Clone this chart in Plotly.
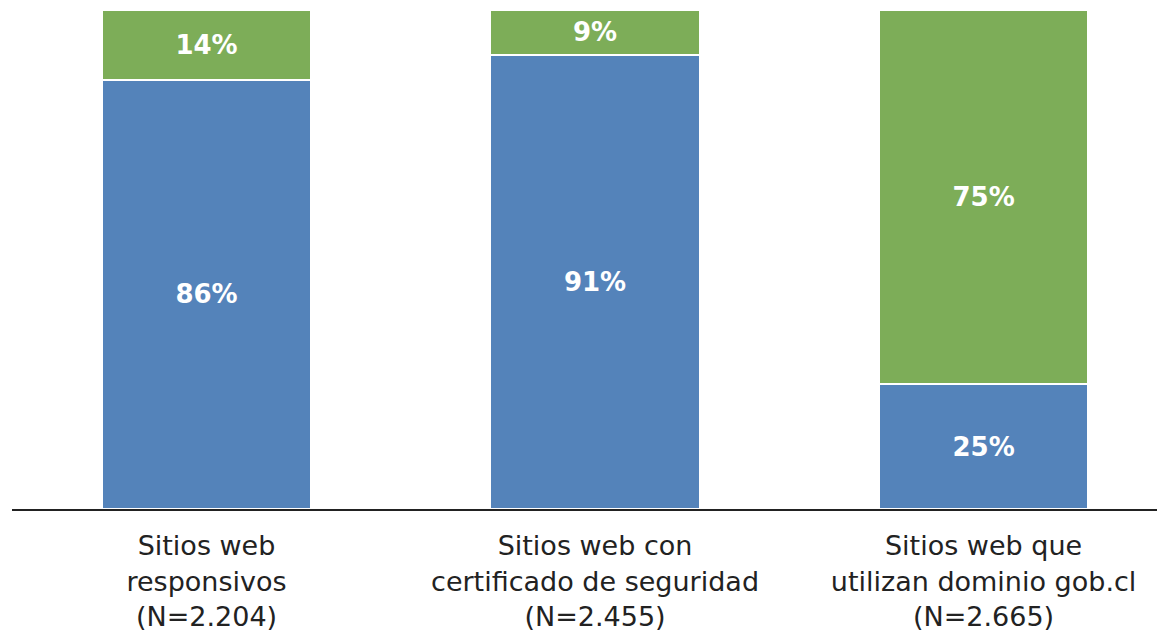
import plotly.graph_objects as go

categories = ["Sitios web<br>responsivos<br>(N=2.204)",
              "Sitios web con<br>certificado de seguridad<br>(N=2.455)",
              "Sitios web que<br>utilizan dominio gob.cl<br>(N=2.665)"]
si_values = [86, 91, 25]
no_values = [14, 9, 75]

blue = "#5483BA"
green = "#7DAD58"
font_family = "DejaVu Sans"

fig = go.Figure()
for vals, col in ((si_values, blue), (no_values, green)):
    fig.add_trace(go.Bar(x=[0, 1, 2], y=vals, marker=dict(color=col, line=dict(color="white", width=2)),
                         text=[f"{v}%" for v in vals], textposition="inside", insidetextanchor="middle",
                         textfont=dict(color="white", size=26, family=font_family, weight="bold"),
                         width=0.54, showlegend=False, hoverinfo="skip"))

fig.update_layout(
    barmode="stack",
    width=1157, height=625,
    margin=dict(l=4, r=0, t=2, b=124),
    paper_bgcolor="white", plot_bgcolor="white",
    uniformtext=dict(mode="show", minsize=10),
    xaxis=dict(tickmode="array", tickvals=[0, 1, 2], ticktext=categories,
               range=[-0.5006, 2.467], showline=True, linecolor="#222222", linewidth=2,
               ticks="", showgrid=False, zeroline=False, ticklabelstandoff=12,
               automargin=False,
               tickfont=dict(size=27, color="#222222", family=font_family)),
    yaxis=dict(range=[0, 100], visible=False, showgrid=False, zeroline=False),
)

fig.write_html("out.html")
